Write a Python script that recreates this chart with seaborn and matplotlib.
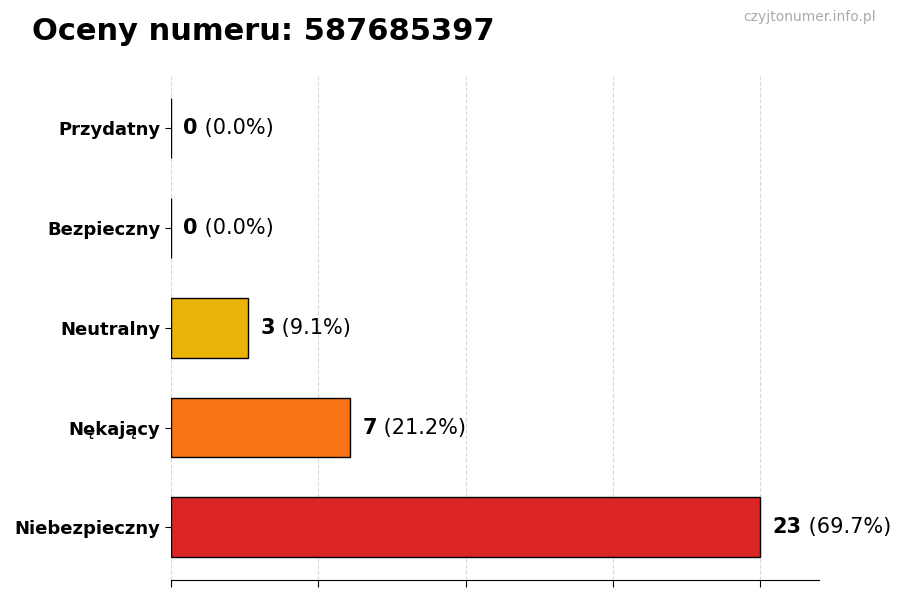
import matplotlib
matplotlib.use("Agg")
import matplotlib.pyplot as plt
import numpy as np
import pandas as pd
import seaborn as sns

categories = ["Przydatny", "Bezpieczny", "Neutralny", "Nękający", "Niebezpieczny"]
counts = [0, 0, 3, 7, 23]
colors = ["#22C55E", "#3B82F6", "#EAB308", "#F97316", "#DC2626"]
phone = "587685397"

total = sum(counts)
df = pd.DataFrame({"category": categories, "count": counts})

sns.set_style("white")
plt.rcParams["font.family"] = ["DejaVu Sans"]
plt.rcParams["text.color"] = "black"
plt.rcParams["ytick.color"] = "black"
plt.rcParams["xtick.color"] = "black"

fig = plt.figure(figsize=(9, 6), dpi=100)
ax = fig.add_axes([0.19, 0.033, 0.72, 0.84])

sns.barplot(
    data=df, x="count", y="category", hue="category", palette=colors,
    orient="h", order=categories, width=0.6, edgecolor="black",
    linewidth=1, legend=False, ax=ax, saturation=1,
)

xmax = max(counts)
ax.set_xlim(0, xmax * 1.1)
ax.set_ylim(len(categories) - 0.47, -0.52)
ax.set_xticks(np.linspace(0, xmax, 5))
ax.set_xticklabels([])
ax.set_xlabel("")
ax.set_ylabel("")
ax.grid(axis="x", linestyle="--", color="#d9d9d9", linewidth=0.8)
ax.set_axisbelow(True)
for side in ["left", "top", "right"]:
    ax.spines[side].set_visible(False)
ax.spines["bottom"].set_color("black")
ax.tick_params(axis="x", length=5, color="black", bottom=True)
ax.tick_params(axis="y", length=4, color="black", left=True, labelsize=13,
               labelcolor="black")
for lbl in ax.get_yticklabels():
    lbl.set_fontweight("bold")

fig.canvas.draw()
renderer = fig.canvas.get_renderer()
for i, c in enumerate(counts):
    pct = c / total * 100
    t = ax.annotate(f"{c}", xy=(c, i), xytext=(9, 0), textcoords="offset points",
                    va="center", ha="left", fontsize=15, fontweight="bold",
                    color="black")
    bb = t.get_window_extent(renderer)
    x_data = ax.transData.inverted().transform((bb.x1, 0))[0]
    ax.annotate(f" ({pct:.1f}%)", xy=(x_data, i), xytext=(0, 0),
                textcoords="offset points", va="center", ha="left",
                fontsize=15, color="black", annotation_clip=False)

fig.text(0.035, 0.948, f"Oceny numeru: {phone}", fontsize=22, fontweight="bold",
         ha="left", va="center", color="black")
fig.text(0.973, 0.971, "czyjtonumer.info.pl", fontsize=10, color="#aaaaaa",
         ha="right", va="center")

fig.savefig("out.png", dpi=100)
